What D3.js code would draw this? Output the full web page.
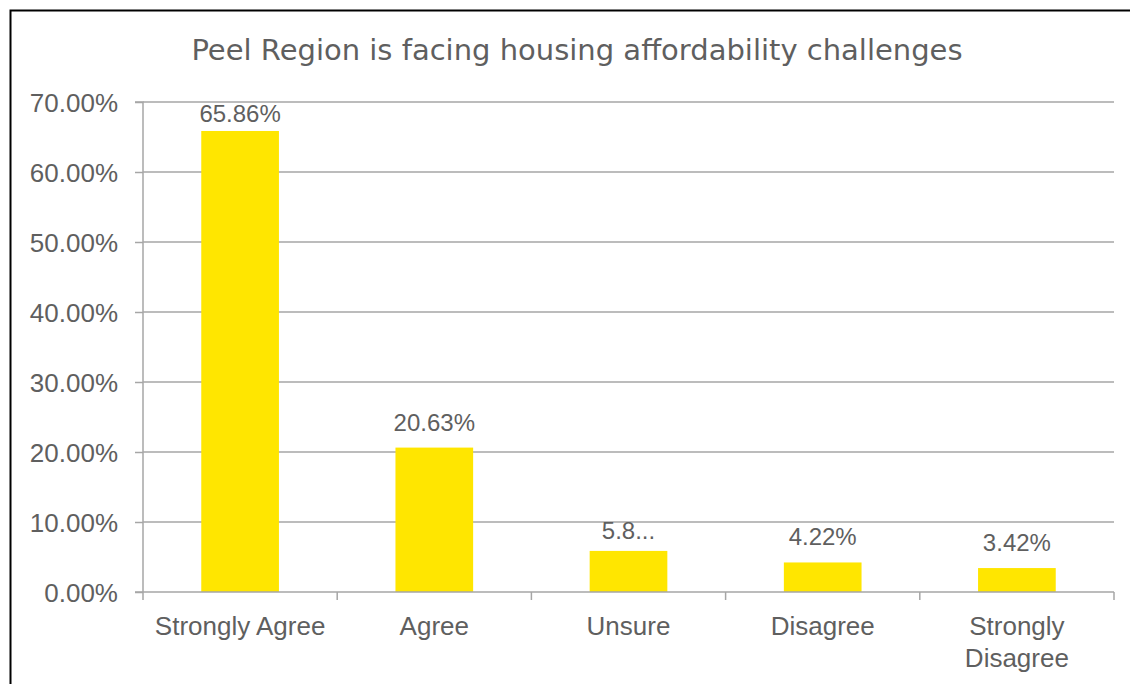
<!DOCTYPE html>
<html><head><meta charset="utf-8">
<script src="https://cdn.jsdelivr.net/npm/d3@7/dist/d3.min.js"></script>
<style>body{margin:0;background:#fff;}svg{display:block;font-family:"Liberation Sans",Arial,sans-serif;}</style>
</head><body>
<svg id="c" width="1130" height="684"></svg>
<script>
const title = "Peel Region is facing housing affordability challenges";
const categories = ["Strongly Agree", "Agree", "Unsure", "Disagree", "Strongly Disagree"];
const values = [65.86, 20.63, 5.87, 4.22, 3.42];
const valueLabels = ["65.86%", "20.63%", "5.8...", "4.22%", "3.42%"];
const yTicks = [0, 10, 20, 30, 40, 50, 60, 70];

const svg = d3.select("#c");
const W = 1130, H = 684;
const m = {left: 143, right: 1114, top: 102, bottom: 592};
const grey = "#5f5f5f", gridC = "#a6a6a6";

// outer border
svg.append("rect").attr("x", 10.5).attr("y", 10.5).attr("width", W + 10).attr("height", H + 10)
  .attr("fill", "none").attr("stroke", "#000").attr("stroke-width", 2);

svg.append("text").attr("x", 577).attr("y", 60).attr("text-anchor", "middle")
  .attr("font-family", "DejaVu Sans, sans-serif")
  .attr("font-size", 29).attr("fill", grey).text(title);

const x = d3.scaleBand().domain(categories).range([m.left, m.right]).paddingInner(0.6).paddingOuter(0.3);
const y = d3.scaleLinear().domain([0, 70]).range([m.bottom, m.top]);

// gridlines
svg.append("g").selectAll("line").data(yTicks.filter(d => d > 0)).join("line")
  .attr("x1", m.left).attr("x2", m.right).attr("y1", d => y(d)).attr("y2", d => y(d))
  .attr("stroke", gridC).attr("stroke-width", 1.5);

// y axis
const ya = svg.append("g").attr("transform", `translate(${m.left},0)`)
  .call(d3.axisLeft(y).tickValues(yTicks).tickFormat(d => d.toFixed(2) + "%").tickSize(8).tickPadding(17));
ya.select(".domain").attr("stroke", gridC).attr("stroke-width", 1.5).attr("d", `M-8,${m.top}H0V${m.bottom}`);
ya.selectAll(".tick line").attr("stroke", gridC).attr("stroke-width", 1.5);
ya.selectAll(".tick text").attr("font-size", 26).attr("fill", grey)
  .attr("font-family", "Liberation Sans, Arial, sans-serif").attr("dy", "0.36em");

// bars
svg.append("g").selectAll("rect").data(values).join("rect")
  .attr("x", (d, i) => x(categories[i])).attr("width", x.bandwidth())
  .attr("y", d => y(d)).attr("height", d => y(0) - y(d)).attr("fill", "#FFE600");

// x axis baseline + ticks at category boundaries
const step = x.step();
const bounds = d3.range(categories.length + 1).map(i => m.left + i * step);
svg.append("line").attr("x1", m.left - 8).attr("x2", m.right).attr("y1", m.bottom).attr("y2", m.bottom)
  .attr("stroke", gridC).attr("stroke-width", 1.5);
svg.append("g").selectAll("line").data(bounds).join("line")
  .attr("x1", d => d).attr("x2", d => d).attr("y1", m.bottom).attr("y2", m.bottom + 8)
  .attr("stroke", gridC).attr("stroke-width", 1.5);

// value labels
svg.append("g").selectAll("text").data(values).join("text")
  .attr("x", (d, i) => x(categories[i]) + x.bandwidth() / 2)
  .attr("y", (d, i) => Math.max(y(d) - (valueLabels[i].endsWith("...") ? 12 : 17), m.top + 20))
  .attr("text-anchor", "middle").attr("font-size", 24).attr("fill", grey)
  .text((d, i) => valueLabels[i]);

// category labels (wrap long)
const cl = svg.append("g").selectAll("text").data(categories).join("text")
  .attr("x", d => x(d) + x.bandwidth() / 2).attr("y", 635)
  .attr("text-anchor", "middle").attr("font-size", 26).attr("fill", grey);
cl.each(function(d) {
  const t = d3.select(this);
  const lines = d === "Strongly Disagree" ? ["Strongly", "Disagree"] : [d];
  lines.forEach((l, i) => t.append("tspan").attr("x", t.attr("x")).attr("dy", i ? 32 : 0).text(l));
});
</script>
</body></html>
